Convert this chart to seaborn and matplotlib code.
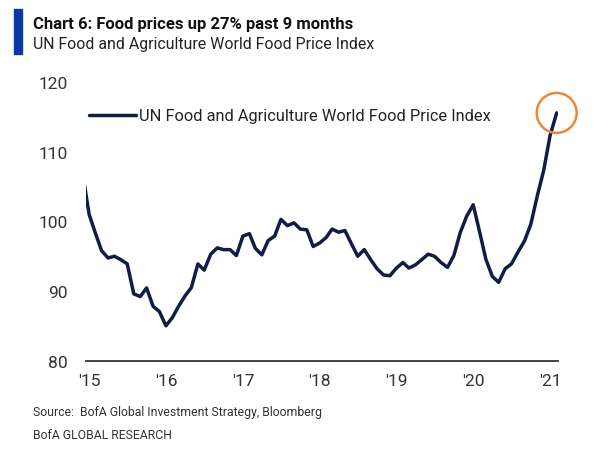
import matplotlib
matplotlib.use("Agg")
import matplotlib.pyplot as plt
import matplotlib.dates as mdates
from matplotlib.patches import Ellipse, Rectangle
import seaborn as sns
import pandas as pd

# ---- data (monthly, Dec 2014 .. Feb 2021) ----
start_month = "2014-12-01"
values = [106.9,
          101.0, 98.2, 95.8, 94.75, 95.0, 94.5, 93.9, 89.6, 89.2, 90.45, 87.8, 87.05,
          85.0, 86.2, 87.8, 89.3, 90.5, 93.9, 93.0, 95.3, 96.2, 95.95, 95.95, 95.1,
          97.9, 98.25, 96.15, 95.2, 97.25, 97.9, 100.3, 99.4, 99.8, 98.9, 98.8, 96.4,
          96.9, 97.7, 98.9, 98.45, 98.7, 96.8, 95.0, 95.95, 94.5, 93.2, 92.3, 92.2,
          93.3, 94.1, 93.3, 93.75, 94.5, 95.3, 95.0, 94.1, 93.4, 95.1, 98.45, 100.75,
          102.4, 98.45, 94.6, 92.1, 91.25, 93.2, 93.9, 95.6, 97.2, 99.6, 103.7, 107.3,
          112.4, 115.6]
series_name = "UN Food and Agriculture World Food Price Index"
tick_years = [2015, 2016, 2017, 2018, 2019, 2020, 2021]
tick_labels = ["'15", "'16", "'17", "'18", "'19", "'20", "'21"]
y_ticks = [80, 90, 100, 110, 120]
title = "Chart 6: Food prices up 27% past 9 months"
subtitle = "UN Food and Agriculture World Food Price Index"
source = "Source:  BofA Global Investment Strategy, Bloomberg"
footer = "BofA GLOBAL RESEARCH"

dates = pd.date_range(start_month, periods=len(values), freq="MS")
df = pd.DataFrame({"date": dates, "value": values, "series": series_name})

sns.set_style("white")
fam = ["Roboto", "DejaVu Sans"]
plt.rcParams["font.family"] = fam

fig = plt.figure(figsize=(6.1, 4.52), dpi=100)
ax = fig.add_axes([0.141, 0.2, 0.774, 0.6157])

navy = "#111d47"
sns.lineplot(data=df, x="date", y="value", hue="series", palette=[navy],
             linewidth=2.5, ax=ax, legend=True)

ax.set_xlim(pd.Timestamp("2014-12-17"), pd.Timestamp("2021-02-08"))
ax.set_ylim(80, 120)
ax.set_yticks(y_ticks)
ax.set_xticks([pd.Timestamp(f"{y}-01-01") for y in tick_years])
ax.set_xticklabels(tick_labels)
ax.set_xlabel("")
ax.set_ylabel("")
for s in ["top", "right", "left"]:
    ax.spines[s].set_visible(False)
ax.spines["bottom"].set_color("#333333")
ax.spines["bottom"].set_linewidth(1.3)
ax.tick_params(axis="both", length=0, labelsize=12.5, colors="#333333")
ax.tick_params(axis="y", pad=13)
ax.tick_params(axis="x", pad=9)

leg = ax.legend(loc="upper left", bbox_to_anchor=(-0.008, 0.93), frameon=False,
                fontsize=11.8, handlelength=2.9, handletextpad=0.15,
                borderaxespad=0)
for t in leg.get_texts():
    t.set_color("#222222")

# orange highlight circle around the last point
last_d = dates[-1]
last_v = values[-1]
circ = Ellipse((mdates.date2num(last_d), last_v), width=40 / 6.4 * 30.4,
               height=40 / 6.96, fill=False, edgecolor="#e8893a", linewidth=1.8,
               zorder=5, clip_on=False)
ax.add_patch(circ)

# header
fig.patches.append(Rectangle((14 / 610, 1 - 55 / 452), 8 / 610, 45 / 452,
                             transform=fig.transFigure, color="#0a3aa8"))
fig.text(33 / 610, 1 - 24 / 452, title, fontsize=12.0, fontweight="bold",
         color="#111111", va="center", ha="left")
fig.text(33 / 610, 1 - 45 / 452, subtitle, fontsize=11.4, color="#222222",
         va="center", ha="left")
fig.text(33 / 610, 1 - 413 / 452, source, fontsize=8.8, color="#333333",
         va="center", ha="left")
fig.text(33 / 610, 1 - 436 / 452, footer, fontsize=8.8, color="#333333",
         va="center", ha="left")

fig.savefig("out.png", dpi=100)
